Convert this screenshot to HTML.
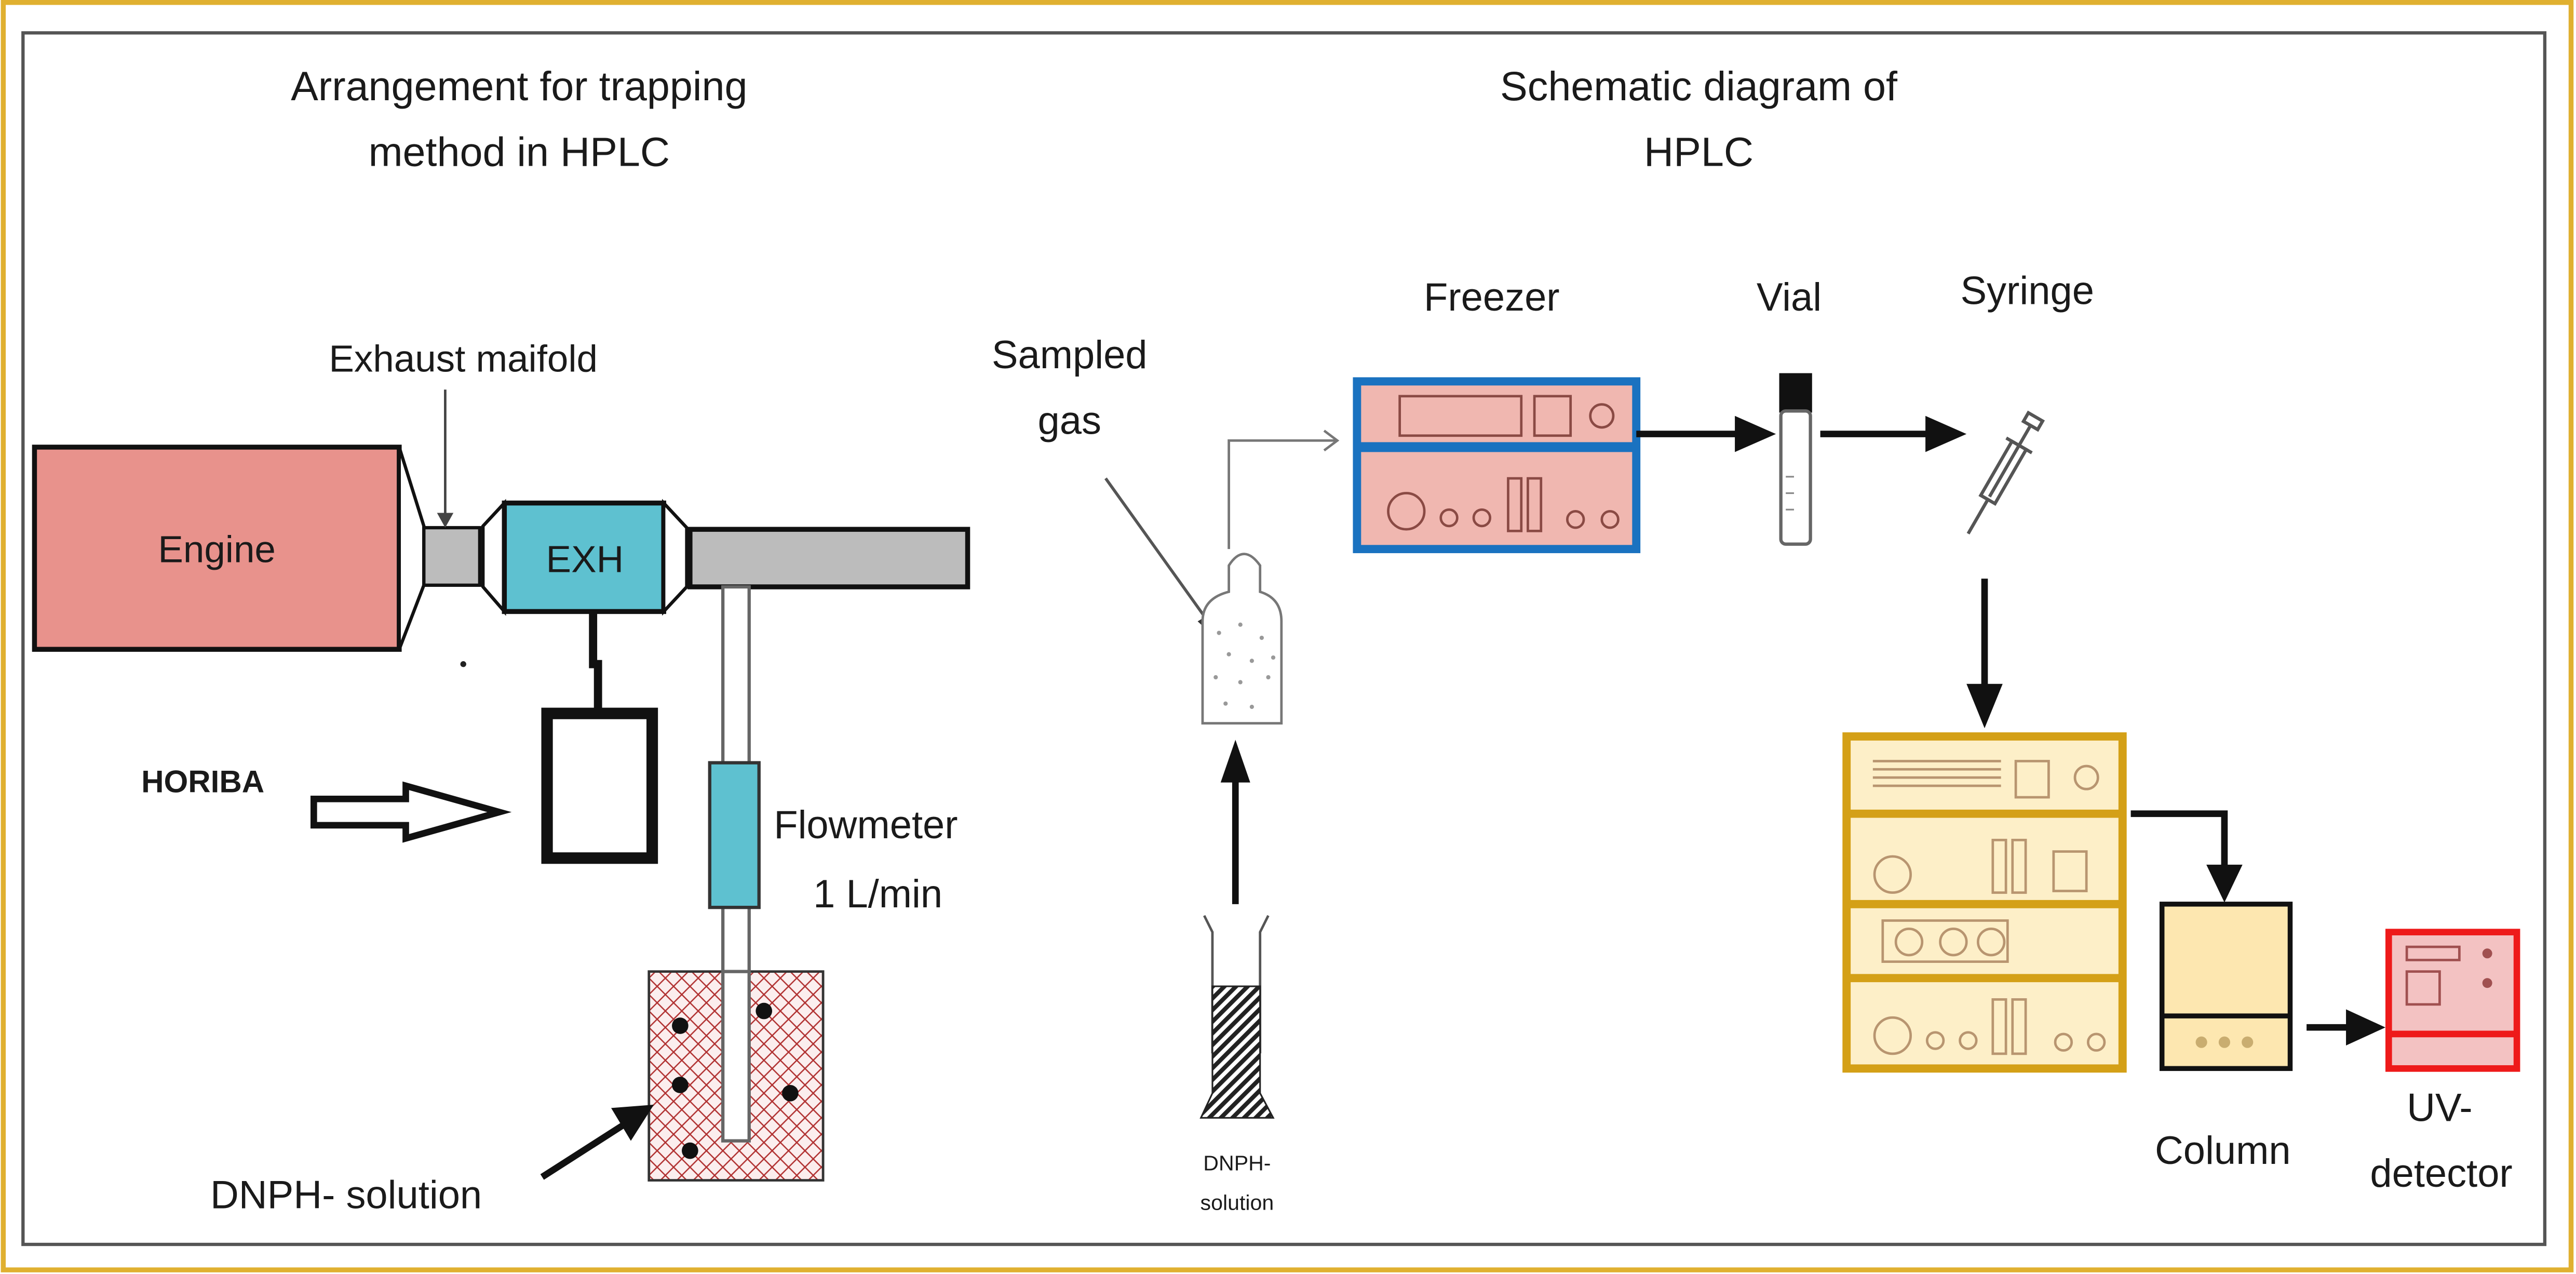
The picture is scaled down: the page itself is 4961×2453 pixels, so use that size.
<!DOCTYPE html>
<html><head><meta charset="utf-8"><style>
html,body{margin:0;padding:0;background:#fff;}
svg{display:block;}
text{font-family:"Liberation Sans",Arial,sans-serif;fill:#1a1a1a;}
</style></head><body>
<svg width="4961" height="2453" viewBox="0 0 1568 775" preserveAspectRatio="none" xmlns="http://www.w3.org/2000/svg">
<defs>
<pattern id="hatch" width="10" height="10" patternUnits="userSpaceOnUse">
<rect width="10" height="10" fill="#fbeeee"/>
<path d="M0,0L10,10M10,0L0,10" stroke="#b03030" stroke-width="0.8"/>
</pattern>
<pattern id="diag" width="5" height="5" patternUnits="userSpaceOnUse" patternTransform="rotate(45)">
<rect width="5" height="5" fill="#fff"/><rect width="2.6" height="5" fill="#222"/>
</pattern>
</defs>
<rect x="0" y="0" width="1568" height="775" fill="#fff"/>
<rect x="2" y="1.5" width="1563" height="771" fill="none" stroke="#e0b030" stroke-width="3"/>
<rect x="14" y="20" width="1535" height="737" fill="none" stroke="#555" stroke-width="2"/>

<text x="316" y="61" font-size="25" text-anchor="middle">Arrangement for trapping</text>
<text x="316" y="101" font-size="25" text-anchor="middle">method in HPLC</text>
<text x="1034" y="61" font-size="25" text-anchor="middle">Schematic diagram of</text>
<text x="1034" y="101" font-size="25" text-anchor="middle">HPLC</text>

<rect x="21" y="272" width="222" height="123" fill="#e8928c" stroke="#111" stroke-width="3"/>
<text x="132" y="342" font-size="23" text-anchor="middle" fill="#111">Engine</text>
<path d="M243,272 L258,320 L258,356 L243,395 Z" fill="#fff" stroke="#111" stroke-width="2"/>
<rect x="258" y="321" width="34" height="35" fill="#bcbcbc" stroke="#111" stroke-width="2"/>
<path d="M307,306 L294,320 L294,357 L307,372 Z" fill="#fff" stroke="#111" stroke-width="2"/>
<rect x="307" y="306" width="97" height="66" fill="#5ec1d0" stroke="#111" stroke-width="3"/>
<text x="356" y="348" font-size="23" text-anchor="middle" fill="#111">EXH</text>
<path d="M404,306 L418,321 L418,357 L404,372 Z" fill="#fff" stroke="#111" stroke-width="2"/>
<rect x="420" y="322" width="169" height="35" fill="#bcbcbc" stroke="#111" stroke-width="3"/>
<text x="282" y="226" font-size="23" text-anchor="middle">Exhaust maifold</text>
<line x1="271" y1="237" x2="271" y2="314" stroke="#444" stroke-width="1.5"/>
<path d="M266,312 L271,321 L276,312 Z" fill="#444"/>
<circle cx="282" cy="404" r="1.8" fill="#222"/>

<path d="M361,372 L361,404 L364,404 L364,431" stroke="#111" stroke-width="5" fill="none"/>
<rect x="333" y="434" width="64" height="88" fill="#fff" stroke="#111" stroke-width="7"/>
<text x="86" y="482" font-size="19" font-weight="bold" fill="#111">HORIBA</text>
<path d="M191,486 L247,486 L247,478 L304,494 L247,510 L247,502 L191,502 Z" fill="#fff" stroke="#111" stroke-width="4"/>

<rect x="440" y="357" width="16" height="337" fill="#fff" stroke="#666" stroke-width="2"/>
<rect x="432" y="464" width="30" height="88" fill="#5ec1d0" stroke="#333" stroke-width="2"/>
<text x="471" y="510" font-size="24">Flowmeter</text>
<text x="495" y="552" font-size="24">1 L/min</text>
<rect x="395" y="591" width="106" height="127" fill="url(#hatch)" stroke="#333" stroke-width="1.5"/>
<rect x="440" y="591" width="16" height="103" fill="#fff" stroke="#666" stroke-width="2"/>
<g fill="#111"><circle cx="414" cy="624" r="5"/><circle cx="465" cy="615" r="5"/><circle cx="414" cy="660" r="5"/><circle cx="481" cy="665" r="5"/><circle cx="420" cy="700" r="5"/></g>
<line x1="330" y1="716" x2="380" y2="684" stroke="#111" stroke-width="4"/>
<path d="M372,674 L398,672 L384,694 Z" fill="#111"/>
<text x="128" y="735" font-size="24">DNPH- solution</text>

<text x="651" y="224" font-size="24" text-anchor="middle">Sampled</text>
<text x="651" y="264" font-size="24" text-anchor="middle">gas</text>
<line x1="673" y1="291" x2="736" y2="379" stroke="#555" stroke-width="1.8"/>
<path d="M729,378 L742,390 L739,372 Z" fill="#333"/>
<path d="M748,360 L748,344 Q757,330 767,344 L767,360 Q780,364 780,378 L780,440 L732,440 L732,378 Q732,364 748,360 Z" fill="#fff" stroke="#777" stroke-width="1.5"/>
<g fill="#999"><circle cx="742" cy="385" r="1.3"/><circle cx="755" cy="380" r="1.3"/><circle cx="768" cy="388" r="1.3"/><circle cx="748" cy="398" r="1.3"/><circle cx="762" cy="402" r="1.3"/><circle cx="740" cy="412" r="1.3"/><circle cx="755" cy="415" r="1.3"/><circle cx="772" cy="412" r="1.3"/><circle cx="746" cy="428" r="1.3"/><circle cx="762" cy="430" r="1.3"/><circle cx="775" cy="400" r="1.3"/></g>
<path d="M748,334 L748,268 L813,268" stroke="#777" stroke-width="1.5" fill="none"/>
<path d="M806,262 L814,268 L806,274" stroke="#777" stroke-width="1.5" fill="none"/>
<line x1="752" y1="550" x2="752" y2="470" stroke="#111" stroke-width="4"/>
<path d="M743,476 L752,450 L761,476 Z" fill="#111"/>
<path d="M733,557 L738,567 L738,640 L767,640 L767,567 L772,557" fill="none" stroke="#555" stroke-width="1.5"/>
<path d="M738,600 L767,600 L767,665 L775,680 L731,680 L738,665 Z" fill="url(#diag)" stroke="#222" stroke-width="1"/>
<text x="753" y="712" font-size="13" text-anchor="middle">DNPH-</text>
<text x="753" y="736" font-size="13" text-anchor="middle">solution</text>

<text x="908" y="189" font-size="24" text-anchor="middle">Freezer</text>
<text x="1089" y="189" font-size="24" text-anchor="middle">Vial</text>
<text x="1234" y="185" font-size="24" text-anchor="middle">Syringe</text>
<rect x="826" y="232" width="170" height="102" fill="#f0b7b0" stroke="#1a72c0" stroke-width="5"/>
<line x1="826" y1="272" x2="996" y2="272" stroke="#1a72c0" stroke-width="6"/>
<g fill="none" stroke="#8a4a44" stroke-width="1.5">
<rect x="852" y="241" width="74" height="24"/><rect x="934" y="241" width="22" height="24"/><circle cx="975" cy="253" r="7"/>
<circle cx="856" cy="311" r="11"/><circle cx="882" cy="315" r="5"/><circle cx="902" cy="315" r="5"/><rect x="918" y="291" width="8" height="32"/><rect x="930" y="291" width="8" height="32"/><circle cx="959" cy="316" r="5"/><circle cx="980" cy="316" r="5"/>
</g>
<line x1="996" y1="264" x2="1060" y2="264" stroke="#111" stroke-width="4"/>
<path d="M1056,253 L1081,264 L1056,275 Z" fill="#111"/>
<rect x="1083" y="227" width="20" height="24" fill="#111"/>
<rect x="1084" y="250" width="18" height="81" rx="3" fill="#fff" stroke="#666" stroke-width="2"/>
<g stroke="#888" stroke-width="1"><line x1="1087" y1="290" x2="1092" y2="290"/><line x1="1087" y1="300" x2="1092" y2="300"/><line x1="1087" y1="310" x2="1092" y2="310"/></g>
<line x1="1108" y1="264" x2="1176" y2="264" stroke="#111" stroke-width="4"/>
<path d="M1172,253 L1197,264 L1172,275 Z" fill="#111"/>
<g transform="translate(1218,290) rotate(30)" fill="none" stroke="#555" stroke-width="2">
<rect x="-5" y="-22" width="10" height="38"/><line x1="0" y1="-22" x2="0" y2="14"/>
<line x1="-9" y1="-22" x2="9" y2="-22"/><line x1="0" y1="-22" x2="0" y2="-36"/>
<rect x="-5" y="-42" width="10" height="6"/><line x1="0" y1="16" x2="0" y2="40"/>
</g>
<line x1="1208" y1="352" x2="1208" y2="420" stroke="#111" stroke-width="4"/>
<path d="M1197,416 L1208,443 L1219,416 Z" fill="#111"/>

<rect x="1124" y="448" width="168" height="202" fill="#fdefc8" stroke="#d4a017" stroke-width="5"/>
<g stroke="#d4a017" stroke-width="5"><line x1="1124" y1="495" x2="1292" y2="495"/><line x1="1124" y1="550" x2="1292" y2="550"/><line x1="1124" y1="595" x2="1292" y2="595"/></g>
<g fill="none" stroke="#b89570" stroke-width="1.5">
<line x1="1140" y1="463" x2="1218" y2="463"/><line x1="1140" y1="468" x2="1218" y2="468"/><line x1="1140" y1="473" x2="1218" y2="473"/><line x1="1140" y1="478" x2="1218" y2="478"/>
<rect x="1227" y="463" width="20" height="22"/><circle cx="1270" cy="473" r="7"/>
<circle cx="1152" cy="532" r="11"/><rect x="1213" y="511" width="8" height="32"/><rect x="1225" y="511" width="8" height="32"/><rect x="1250" y="518" width="20" height="24"/>
<rect x="1146" y="560" width="76" height="25"/><circle cx="1162" cy="573" r="8"/><circle cx="1189" cy="573" r="8"/><circle cx="1212" cy="573" r="8"/>
<circle cx="1152" cy="630" r="11"/><circle cx="1178" cy="633" r="5"/><circle cx="1198" cy="633" r="5"/><rect x="1213" y="608" width="8" height="33"/><rect x="1225" y="608" width="8" height="33"/><circle cx="1256" cy="634" r="5"/><circle cx="1276" cy="634" r="5"/>
</g>
<path d="M1297,495 L1354,495 L1354,530" stroke="#111" stroke-width="4" fill="none"/>
<path d="M1343,526 L1354,549 L1365,526 Z" fill="#111"/>
<rect x="1316" y="550" width="78" height="100" fill="#fde7b0" stroke="#111" stroke-width="3"/>
<line x1="1316" y1="618" x2="1394" y2="618" stroke="#111" stroke-width="3"/>
<g fill="#c9ad70"><circle cx="1340" cy="634" r="3.5"/><circle cx="1354" cy="634" r="3.5"/><circle cx="1368" cy="634" r="3.5"/></g>
<line x1="1404" y1="625" x2="1432" y2="625" stroke="#111" stroke-width="4"/>
<path d="M1428,614 L1452,625 L1428,636 Z" fill="#111"/>
<rect x="1454" y="567" width="78" height="83" fill="#f3c2c2" stroke="#ee1a1a" stroke-width="4"/>
<line x1="1454" y1="629" x2="1532" y2="629" stroke="#ee1a1a" stroke-width="4"/>
<g fill="none" stroke="#a05050" stroke-width="1.5"><rect x="1465" y="576" width="32" height="8"/><rect x="1465" y="591" width="20" height="20"/></g>
<g fill="#a05050"><circle cx="1514" cy="580" r="3"/><circle cx="1514" cy="598" r="3"/></g>
<text x="1353" y="708" font-size="24" text-anchor="middle">Column</text>
<text x="1485" y="682" font-size="24" text-anchor="middle">UV-</text>
<text x="1486" y="722" font-size="24" text-anchor="middle">detector</text>
</svg>
</body></html>
